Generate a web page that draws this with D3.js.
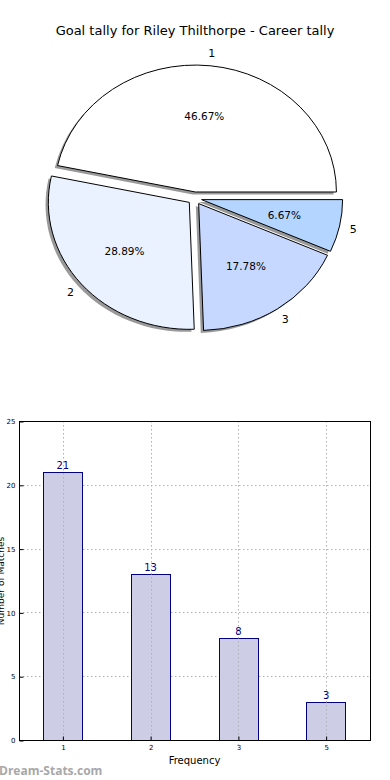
<!DOCTYPE html>
<html>
<head>
<meta charset="utf-8">
<script src="https://cdn.jsdelivr.net/npm/d3@7"></script>
<style>
  body { margin: 0; background: #fff; }
  svg { display: block; font-family: "DejaVu Sans", sans-serif; }
</style>
</head>
<body>
<svg id="chart" width="390" height="780"></svg>
<script>
// goal tally data
var tallies = ["1", "2", "3", "5"];
var matches = [21, 13, 8, 3];
var pieColors = ["#ffffff", "#ebf2ff", "#c6d8ff", "#b4d5ff"];
var yTicks = [0, 5, 10, 15, 20, 25];

var svg = d3.select("#chart");

svg.append("text")
  .attr("x", 195)
  .attr("y", 35)
  .attr("text-anchor", "middle")
  .attr("font-size", "13px")
  .attr("fill", "#000")
  .text("Goal tally for Riley Thilthorpe - Career tally");

// Pie (matplotlib style, elliptical, exploded, shadowed)
var cx = 194.7, cy = 198.3, rx = 141, ry = 127, explode = 0.05;
var total = d3.sum(matches);

var pie = d3.pie().sort(null)
  .startAngle(0).endAngle(2 * Math.PI)
  .value(d => d);
var arcs = pie(matches);

// d3 angle: 0 at top, clockwise. convert to math angle (ccw from +x)
function mathAngle(a) { return Math.PI / 2 - a; }

var arcGen = d3.arc().innerRadius(0).outerRadius(1);

var pieGroup = svg.append("g");

arcs.forEach(function (a, i) {
  // matplotlib counterclockwise from 0 deg: wedge spans [s, e] in math angles
  var s = a.startAngle, e = a.endAngle;
  var mid = (s + e) / 2;
  // counterclockwise: math angle = theta (draw in flipped coordinates)
  var ox = Math.cos(mid) * explode * rx;
  var oy = -Math.sin(mid) * explode * ry;
  // build path in unit circle with math angles, then scale
  var path = arcGen({ startAngle: Math.PI / 2 - s, endAngle: Math.PI / 2 - e });
  var g = pieGroup.append("g")
    .attr("transform", `translate(${cx + ox}, ${cy + oy})`);
  g.append("path")
    .attr("d", path)
    .attr("transform", `translate(-2.8, 2.5) scale(${rx}, ${ry})`)
    .attr("fill", "#000")
    .attr("fill-opacity", 0.4)
    .attr("stroke", "none");
  a.g = g; a.path = path; a.mid = mid; a.ox = ox; a.oy = oy;
});

arcs.forEach(function (a, i) {
  a.g.append("path")
    .attr("d", a.path)
    .attr("transform", `scale(${rx}, ${ry})`)
    .attr("fill", pieColors[i])
    .attr("stroke", "#000")
    .attr("stroke-width", 1)
    .attr("vector-effect", "non-scaling-stroke");

  var pct = (matches[i] / total * 100).toFixed(2) + "%";
  a.g.append("text")
    .attr("x", 0.6 * rx * Math.cos(a.mid))
    .attr("y", -0.6 * ry * Math.sin(a.mid))
    .attr("dy", "0.35em")
    .attr("text-anchor", "middle")
    .attr("font-size", "10.5px")
    .text(pct);

  a.g.append("text")
    .attr("x", 1.1 * rx * Math.cos(a.mid))
    .attr("y", -1.1 * ry * Math.sin(a.mid))
    .attr("dy", "0.35em")
    .attr("text-anchor", "middle")
    .attr("font-size", "11px")
    .text(tallies[i]);
});

// Bar chart
var margin = { left: 19, top: 421, right: 370, bottom: 740 };

var x = d3.scaleBand()
  .domain(tallies)
  .range([margin.left, margin.right]);

var y = d3.scaleLinear()
  .domain([0, 25])
  .range([margin.bottom, margin.top]);

var barW = x.bandwidth() * 0.45;

var grid = svg.append("g")
  .attr("stroke", "#b0b0b0")
  .attr("stroke-dasharray", "1.5,2.5")
  .attr("stroke-width", 1);

grid.selectAll("line.h")
  .data(yTicks)
  .enter().append("line")
  .attr("x1", margin.left).attr("x2", margin.right)
  .attr("y1", d => Math.round(y(d)) + 0.5)
  .attr("y2", d => Math.round(y(d)) + 0.5);

svg.selectAll("rect.bar")
  .data(matches)
  .enter().append("rect")
  .attr("class", "bar")
  .attr("x", (d, i) => Math.round(x(tallies[i]) + x.bandwidth() / 2 - barW / 2) + 0.5)
  .attr("y", d => Math.round(y(d)) + 0.5)
  .attr("width", Math.round(barW))
  .attr("height", d => Math.round(y(0)) - Math.round(y(d)))
  .attr("fill", "#cdcde6")
  .attr("stroke", "#000080")
  .attr("stroke-width", 1);

svg.append("g")
  .attr("stroke", "#b0b0b0")
  .attr("stroke-dasharray", "1.5,2.5")
  .selectAll("line")
  .data(tallies)
  .enter().append("line")
  .attr("x1", d => Math.round(x(d) + x.bandwidth() / 2) + 0.5)
  .attr("x2", d => Math.round(x(d) + x.bandwidth() / 2) + 0.5)
  .attr("y1", margin.top).attr("y2", margin.bottom);

svg.selectAll("text.val")
  .data(matches)
  .enter().append("text")
  .attr("class", "val")
  .attr("x", (d, i) => x(tallies[i]) + x.bandwidth() / 2)
  .attr("y", d => y(d) - 3)
  .attr("text-anchor", "middle")
  .attr("font-size", "10px")
  .attr("fill", "#000080")
  .text(d => d);

// axes
var leftAxis = d3.axisLeft(y).tickValues(yTicks).tickSize(-4).tickPadding(4);
var bottomAxis = d3.axisBottom(x).tickSize(-4).tickPadding(5);

var gl = svg.append("g")
  .attr("transform", `translate(${margin.left + 0.5}, 0.5)`)
  .call(leftAxis);
var gb = svg.append("g")
  .attr("transform", `translate(0.5, ${margin.bottom + 0.5})`)
  .call(bottomAxis);
[gl, gb].forEach(function (g) {
  g.select(".domain").remove();
  g.selectAll("text").attr("font-size", "7px").attr("font-family", "DejaVu Sans, sans-serif").attr("fill", "#000");
  g.selectAll("line").attr("stroke", "#000");
});

svg.append("rect")
  .attr("x", margin.left + 0.5)
  .attr("y", margin.top + 0.5)
  .attr("width", margin.right - margin.left)
  .attr("height", margin.bottom - margin.top)
  .attr("fill", "none")
  .attr("stroke", "#000")
  .attr("stroke-width", 1);

svg.append("text")
  .attr("x", (margin.left + margin.right) / 2)
  .attr("y", 764)
  .attr("text-anchor", "middle")
  .attr("font-size", "10px")
  .text("Frequency");

svg.append("text")
  .attr("transform", "translate(4, 581) rotate(-90)")
  .attr("text-anchor", "middle")
  .attr("font-size", "9px")
  .text("Number of Matches");

svg.append("text")
  .attr("x", -1)
  .attr("y", 775)
  .attr("font-size", "12px")
  .attr("font-weight", "bold")
  .attr("fill", "#a8a8a8")
  .attr("font-family", "Open Sans, DejaVu Sans, sans-serif")
  .text("Dream-Stats.com");
</script>
</body>
</html>
